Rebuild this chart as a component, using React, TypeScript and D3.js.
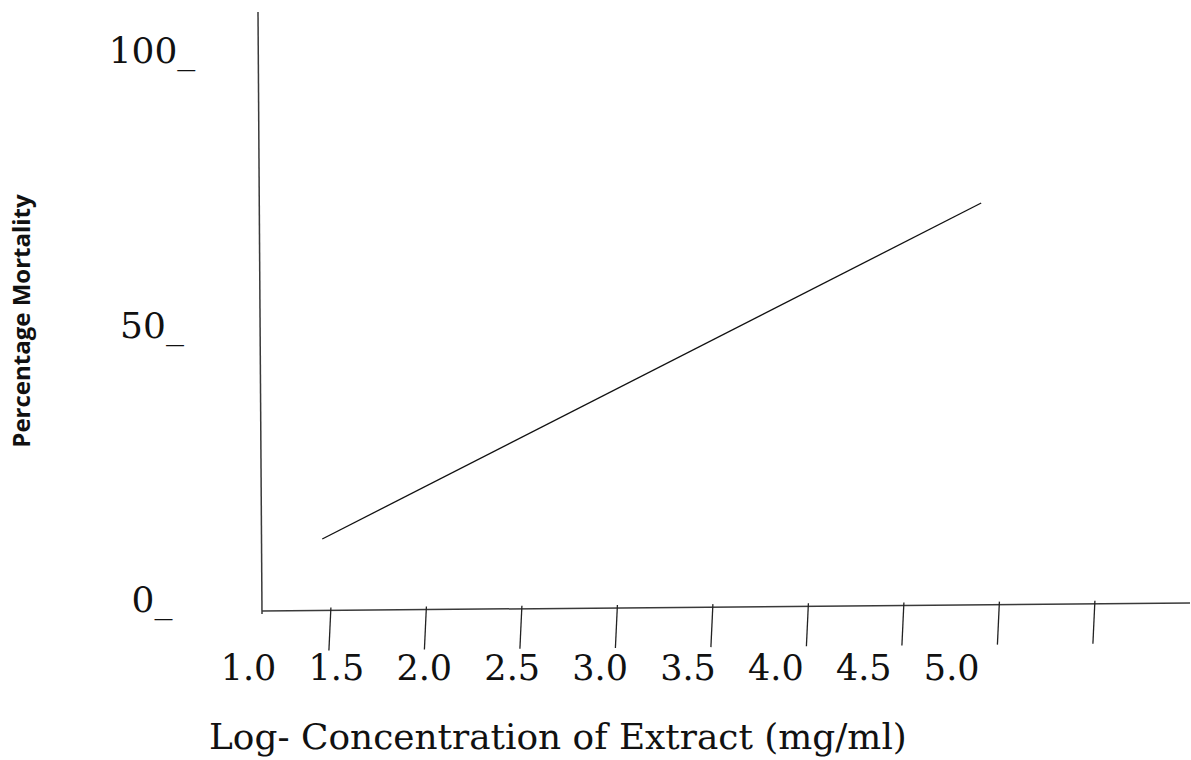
import React from "react";
import * as d3 from "d3";

// ---- data ----
const tickValues = [1.5, 2.0, 2.5, 3.0, 3.5, 4.0, 4.5, 5.0, 5.5];
const xLabels = ["1.0", "1.5", "2.0", "2.5", "3.0", "3.5", "4.0", "4.5", "5.0"];
const yLabels = ["100", "50", "0"];
const lineX = [1.46, 4.91];
const lineY = [13.3, 74.5];
const xTitle = "Log- Concentration of Extract (mg/ml)";
const yTitle = "Percentage Mortality";

const W = 1191;
const H = 760;
const serif = "'DejaVu Serif', serif";

export default function App() {
  const x = d3.scaleLinear().domain([3.5, 4.5]).range([711.9, 902.9]);
  const labelX = d3.scaleLinear().domain([3, 4]).range([604.1, 779.9]);
  const y = d3.scaleLinear().domain([0, 100]).range([612, 63]);

  // hand-drawn axes (slightly tilted)
  const xAxisStart: [number, number] = [262, 611];
  const xAxisEnd: [number, number] = [1190, 603];
  const axisYAt = d3
    .scaleLinear()
    .domain([xAxisStart[0], xAxisEnd[0]])
    .range([xAxisStart[1], xAxisEnd[1]]);

  const line = d3
    .line<number>()
    .x((_, i) => x(lineX[i]))
    .y((d) => y(d));

  const axisColor = "#3a3a3a";

  return (
    <svg
      width={W}
      height={H}
      style={{ position: "absolute", left: 0, top: 0, background: "#fff" }}
    >
      {/* y axis */}
      <line x1={258} y1={12} x2={262} y2={614} stroke={axisColor} strokeWidth={1.5} />
      {/* x axis */}
      <line
        x1={xAxisStart[0]}
        y1={xAxisStart[1]}
        x2={xAxisEnd[0]}
        y2={xAxisEnd[1]}
        stroke={axisColor}
        strokeWidth={1.5}
      />
      {/* ticks */}
      {tickValues.map((v) => {
        const px = x(v);
        const ay = axisYAt(px);
        return (
          <line
            key={v}
            x1={px + 1}
            y1={ay - 3}
            x2={px - 1}
            y2={ay + 40}
            stroke="#222"
            strokeWidth={1.3}
          />
        );
      })}
      {/* x tick labels */}
      {xLabels.map((t) => (
        <text
          key={t}
          x={labelX(+t) - 4}
          y={680}
          textAnchor="middle"
          fontFamily={serif}
          fontSize={35}
          fill="#111"
        >
          {t}
        </text>
      ))}
      {/* y tick labels */}
      {yLabels.map((t) => (
        <text
          key={t}
          x={152}
          y={y(+t)}
          textAnchor="middle"
          fontFamily={serif}
          fontSize={36}
          fill="#111"
        >
          {t + "_"}
        </text>
      ))}
      {/* data line */}
      <path d={line(lineY) || ""} fill="none" stroke="#111" strokeWidth={1.3} />
      {/* titles */}
      <text x={209} y={749} fontFamily={serif} fontSize={35.9} fill="#111">
        {xTitle}
      </text>
      <text
        transform={`translate(30, 321) rotate(-90)`}
        textAnchor="middle"
        fontFamily="'Open Sans', sans-serif"
        fontWeight="bold"
        fontSize={24}
        fill="#111"
      >
        {yTitle}
      </text>
    </svg>
  );
}
